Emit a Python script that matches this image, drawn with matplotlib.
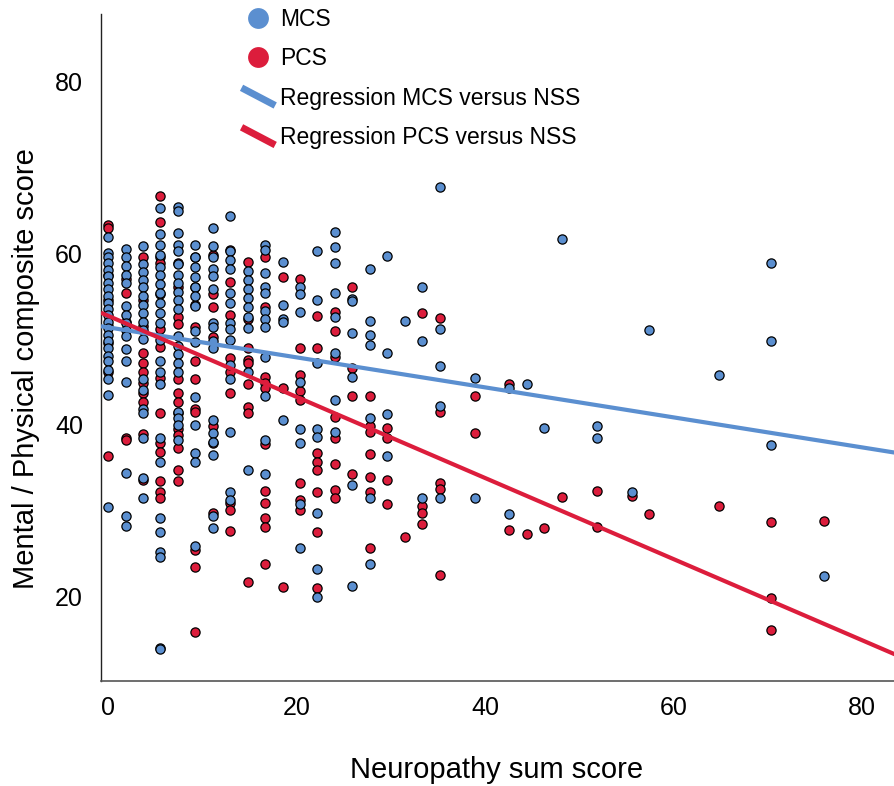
import numpy as np
import matplotlib
matplotlib.use("Agg")
import matplotlib.pyplot as plt
from matplotlib.lines import Line2D
from matplotlib.legend_handler import HandlerBase

plt.rcParams['font.family'] = ['Liberation Sans', 'DejaVu Sans']

# neuropathy sum score levels (x) and the scores read at each level
nss_levels = [0, 1.85, 3.70, 5.56, 7.41, 9.26, 11.11, 12.96, 14.81, 16.67,
              18.52, 20.37, 22.22, 24.07, 25.93, 27.78, 29.63, 31.48, 33.33, 35.19,
              38.89, 42.59, 44.44, 46.30, 48.15, 51.85, 55.56, 57.41, 64.81, 70.37,
              75.93]

mcs_values = [
    [61.9, 60.0, 59.5, 58.8, 58.0, 57.3, 56.5, 55.8, 55.0, 54.2, 53.5, 52.8, 52.0,
     51.3, 50.5, 49.8, 49.0, 48.0, 47.4, 46.4, 45.3, 43.5, 30.4],
    [60.5, 59.5, 58.5, 57.5, 56.5, 53.8, 52.8, 51.8, 51.0, 50.3, 48.8, 47.4, 45.0,
     34.4, 29.4, 28.2],
    [60.8, 58.7, 57.8, 56.9, 56.0, 55.0, 54.0, 53.0, 52.0, 51.0, 50.0, 45.3, 44.1,
     41.8, 41.4, 38.4, 33.8, 31.5],
    [65.3, 62.2, 61.0, 59.8, 58.4, 57.4, 56.4, 55.4, 54.2, 53.0, 51.9, 49.9, 47.4,
     46.1, 44.7, 38.5, 35.6, 29.1, 27.5, 25.1, 24.6, 14.0, 13.8],
    [65.4, 64.9, 62.4, 61.0, 60.2, 58.7, 57.5, 56.5, 55.5, 54.5, 53.5, 50.3, 49.2,
     48.2, 47.2, 46.1, 41.5, 40.8, 40.0, 38.2],
    [61.0, 59.6, 58.4, 57.2, 56.0, 55.0, 53.8, 50.9, 49.6, 43.2, 40.0, 36.7, 35.6,
     25.8],
    [62.9, 60.8, 59.5, 58.1, 57.3, 55.8, 51.9, 51.4, 49.7, 49.0, 40.6, 39.0, 38.0,
     36.5, 29.3, 27.9],
    [64.3, 60.2, 59.2, 58.1, 55.4, 54.2, 51.9, 51.1, 49.9, 47.0, 45.3, 39.1, 32.1,
     31.2],
    [57.9, 56.9, 55.8, 54.8, 53.7, 52.6, 51.3, 46.2, 34.7],
    [61.0, 60.4, 57.7, 56.0, 55.4, 53.2, 52.3, 51.4, 47.9, 43.3, 38.2, 34.3],
    [59.0, 54.0, 52.3, 52.0, 40.5],
    [56.1, 55.2, 53.1, 45.0, 39.5, 37.9, 30.7, 25.6],
    [60.3, 54.5, 47.2, 39.5, 38.6, 29.7, 23.2, 19.9],
    [62.5, 60.7, 58.8, 55.4, 52.6, 48.4, 42.9, 39.1],
    [54.6, 54.4, 50.7, 45.6, 33.0, 21.2],
    [58.2, 52.1, 50.5, 49.3, 40.8, 31.4, 23.8],
    [59.7, 48.4, 41.2, 36.4],
    [52.1],
    [56.1, 49.7, 31.5],
    [67.7, 51.1, 46.8, 42.2, 31.5],
    [45.4, 31.4],
    [44.3, 29.6],
    [44.8],
    [39.6],
    [61.7],
    [39.8, 38.5],
    [32.2],
    [51.0],
    [45.8],
    [58.8, 49.7, 37.6],
    [22.4],
]

pcs_values = [
    [63.3, 62.9, 57.5, 54.5, 51.5, 49.5, 46.2, 36.3],
    [57.0, 55.4, 52.0, 38.5, 38.2],
    [59.5, 54.5, 51.5, 48.4, 47.2, 46.1, 44.9, 43.7, 42.6, 38.9, 33.6],
    [66.7, 63.6, 59.5, 58.9, 55.2, 51.1, 49.1, 45.5, 41.4, 37.9, 36.8, 33.4, 32.2,
     31.5],
    [58.9, 56.0, 52.6, 51.7, 45.3, 43.7, 42.6, 41.4, 39.5, 38.8, 37.3, 34.7, 33.4],
    [59.5, 56.1, 54.0, 51.4, 47.4, 45.3, 41.8, 41.5, 25.4, 23.4, 15.8],
    [59.8, 55.2, 53.7, 50.2, 39.8, 37.9, 29.7],
    [60.4, 56.6, 52.8, 47.8, 46.2, 43.7, 30.9, 30.1, 27.6],
    [59.0, 52.3, 49.0, 47.6, 47.2, 44.7, 42.1, 41.4, 21.6],
    [59.5, 53.7, 45.6, 44.9, 44.3, 37.7, 32.3, 30.9, 29.1, 28.1, 23.7],
    [57.2, 44.3, 21.1],
    [57.0, 48.9, 45.8, 43.9, 42.9, 33.2, 31.2, 30.1],
    [52.7, 48.9, 36.7, 35.7, 34.7, 32.2, 27.5, 21.0],
    [53.1, 50.9, 47.9, 40.9, 38.5, 35.4, 32.4, 31.4],
    [56.0, 46.6, 43.4, 34.2],
    [43.4, 39.8, 39.2, 36.6, 33.9, 32.1, 25.6],
    [39.6, 38.5, 33.5, 30.8],
    [26.9],
    [53.0, 30.5, 29.7, 28.4],
    [52.4, 41.5, 33.2, 32.5, 22.5],
    [43.3, 39.0],
    [44.8, 27.7],
    [27.3],
    [27.9],
    [31.6],
    [32.3, 28.1],
    [31.7],
    [29.6],
    [30.5],
    [28.6, 19.8, 16.1],
    [28.8],
]

# regression coefficients
mcs_fit = (51.35, -0.175)
pcs_fit = (52.7, -0.473)

x_ticks = [0, 20, 40, 60, 80]
y_ticks = [20, 40, 60, 80]

blue = '#5b8fd0'
red = '#dc1d3c'

mcs_x = np.concatenate([[x] * len(v) for x, v in zip(nss_levels, mcs_values)])
mcs_y = np.concatenate(mcs_values)
pcs_x = np.concatenate([[x] * len(v) for x, v in zip(nss_levels, pcs_values)])
pcs_y = np.concatenate(pcs_values)

fig = plt.figure(figsize=(8.95, 7.86), dpi=100)
ax = fig.add_axes([101 / 895, 105 / 786, 794 / 895, 667 / 786])

ax.scatter(pcs_x, pcs_y, s=44, c=red, edgecolors='black', linewidths=0.9, zorder=3)
ax.scatter(mcs_x, mcs_y, s=44, c=blue, edgecolors='black', linewidths=0.9, zorder=4)

xlim = (-0.75, 83.5)
xx = np.array(xlim)
ax.plot(xx, mcs_fit[0] + mcs_fit[1] * xx, color=blue, lw=3, zorder=5,
        solid_capstyle='butt')
ax.plot(xx, pcs_fit[0] + pcs_fit[1] * xx, color=red, lw=3, zorder=5,
        solid_capstyle='butt')

ax.set_xlim(*xlim)
ax.set_ylim(10.1, 87.9)
ax.set_xticks(x_ticks)
ax.set_yticks(y_ticks)
ax.tick_params(length=0)
ax.tick_params(axis='x', pad=11)
ax.tick_params(axis='y', pad=13)
for lab in ax.get_xticklabels() + ax.get_yticklabels():
    lab.set_fontfamily(['Liberation Sans Narrow', 'Liberation Sans'])
    lab.set_fontsize(18)
for side in ['top', 'right']:
    ax.spines[side].set_visible(False)
ax.spines['left'].set_color('#222222')
ax.spines['bottom'].set_color('#555555')
ax.spines['left'].set_linewidth(1)
ax.spines['bottom'].set_linewidth(1.2)

fig.text(497 / 895, 1 - 770 / 786, 'Neuropathy sum score', ha='center', va='center',
         fontsize=21)
fig.text(26 / 895, 1 - 369 / 786, 'Mental / Physical composite score', ha='center',
         va='center', rotation=90, fontsize=21)


class DiagonalHandler(HandlerBase):
    def create_artists(self, legend, orig_handle, xdescent, ydescent, width, height,
                       fontsize, trans):
        line = Line2D([-xdescent, -xdescent + width], [height * 0.95, height * 0.05],
                      color=orig_handle.get_color(), lw=5, transform=trans)
        return [line]


handles = [
    Line2D([], [], ls='none', marker='o', markersize=15, color=blue, markeredgewidth=0),
    Line2D([], [], ls='none', marker='o', markersize=15, color=red, markeredgewidth=0),
    Line2D([], [], color=blue),
    Line2D([], [], color=red),
]
labels = ['MCS', 'PCS', 'Regression MCS versus NSS', 'Regression PCS versus NSS']
leg = fig.legend(handles, labels, loc='upper left', bbox_to_anchor=(224 / 895, 1.0165),
                 frameon=False, fontsize=16.5, handlelength=1.2, handletextpad=0.35,
                 labelspacing=0.72,
                 handler_map={handles[2]: DiagonalHandler(),
                              handles[3]: DiagonalHandler()})

fig.savefig('out.png', dpi=100)
